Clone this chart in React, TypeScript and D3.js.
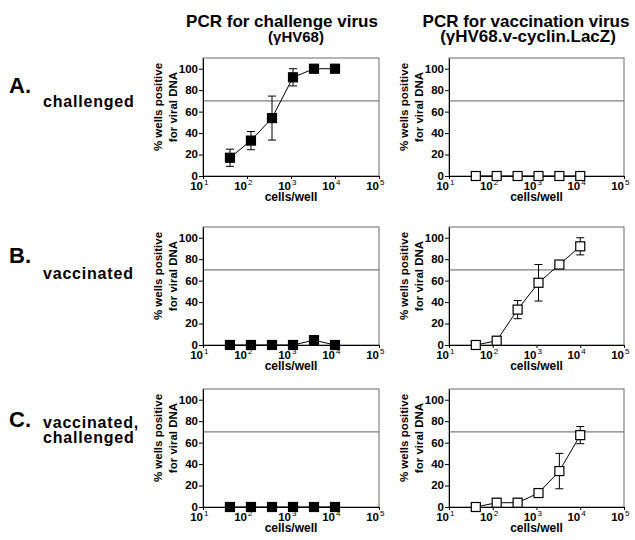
import React, { useRef, useEffect } from 'react';
import * as d3 from 'd3';

const WIDTH = 635;
const HEIGHT = 540;
const FONT = '"Liberation Sans", Arial, Helvetica, sans-serif';

// cells plated per well (3-fold dilutions down from 10^4)
const CELLS_PER_WELL = [41, 123, 370, 1111, 3333, 10000];
const X_EXPONENTS = [1, 2, 3, 4, 5];
const Y_TICKS = [0, 20, 40, 60, 80, 100];
const THRESHOLD = 70;

const COLUMN_TITLES = [
  ['PCR for challenge virus', '(γHV68)'],
  ['PCR for vaccination virus', '(γHV68.v-cyclin.LacZ)'],
];
const ROW_LETTERS = ['A.', 'B.', 'C.'];
const ROW_LABELS = [['challenged'], ['vaccinated'], ['vaccinated,', 'challenged']];

// % wells positive for challenge virus DNA (mean, error)
const CHALLENGE_A = [17, 33, 54, 92, 100, 100];
const CHALLENGE_A_ERR = [8, 8.5, 20.5, 8, 0, 0];
const CHALLENGE_B = [0, 0, 0, 0, 4.5, 0];
const CHALLENGE_B_ERR = [0, 0, 0, 0, 4, 0];
const CHALLENGE_C = [0, 0, 0, 0, 0, 0];
const CHALLENGE_C_ERR = [0, 0, 0, 0, 0, 0];

// % wells positive for vaccination virus DNA (mean, error)
const VACCINE_A = [0, 0, 0, 0, 0, 0];
const VACCINE_A_ERR = [0, 0, 0, 0, 0, 0];
const VACCINE_B = [0, 4, 33, 58, 75, 92];
const VACCINE_B_ERR = [0, 4, 8.5, 17, 0, 8];
const VACCINE_C = [0, 4, 4, 13, 33.5, 67];
const VACCINE_C_ERR = [0, 4, 4, 3.5, 16.5, 8];

const SERIES = [
  [[CHALLENGE_A, CHALLENGE_A_ERR], [VACCINE_A, VACCINE_A_ERR]],
  [[CHALLENGE_B, CHALLENGE_B_ERR], [VACCINE_B, VACCINE_B_ERR]],
  [[CHALLENGE_C, CHALLENGE_C_ERR], [VACCINE_C, VACCINE_C_ERR]],
];

// panel layout
const COL_X = [203, 449];
const COL_W = [176, 175];
const ROW_Y = [58, 227, 389];
const PLOT_H = 118;

export default function App() {
  const svgRef = useRef<SVGSVGElement>(null);

  useEffect(() => {
    const svg = d3.select(svgRef.current);
    svg.selectAll('*').remove();

    svg.append('rect').attr('width', WIDTH).attr('height', HEIGHT).attr('fill', '#fff');

    // column titles
    const titleX = [[282, 296], [526, 528]];
    const titleSize = [['17px', '15px'], ['17px', '17px']];
    COLUMN_TITLES.forEach((lines, c) => {
      lines.forEach((t, i) => {
        svg.append('text')
          .attr('x', titleX[c][i])
          .attr('y', i === 0 ? 26.5 : 41.5)
          .attr('text-anchor', 'middle')
          .style('font-family', FONT)
          .style('font-weight', 'bold')
          .style('font-size', titleSize[c][i])
          .text(t);
      });
    });

    // row letters and labels
    const letterY = [93, 263, 427];
    const labelY = [[107], [279], [428, 443]];
    ROW_LETTERS.forEach((l, r) => {
      svg.append('text')
        .attr('x', 9).attr('y', letterY[r])
        .style('font-family', FONT).style('font-weight', 'bold').style('font-size', '22px')
        .text(l);
      ROW_LABELS[r].forEach((t, i) => {
        svg.append('text')
          .attr('x', 43).attr('y', labelY[r][i])
          .style('font-family', FONT).style('font-weight', 'bold').style('font-size', '16px')
          .style('letter-spacing', '0.8px')
          .text(t);
      });
    });

    ROW_Y.forEach((top, r) => {
      COL_X.forEach((left, c) => {
        const w = COL_W[c];
        const [mean, err] = SERIES[r][c];
        const g = svg.append('g').attr('transform', `translate(${left},${top})`);

        const x = d3.scaleLog().domain([10, 1e5]).range([0, w]);
        const y = d3.scaleLinear().domain([0, 110]).range([PLOT_H, 0]);

        // frame
        g.append('rect')
          .attr('width', w).attr('height', PLOT_H)
          .attr('fill', 'none').attr('stroke', '#6a6a6a').attr('stroke-width', 1);

        // threshold line
        g.append('line')
          .attr('x1', 0).attr('x2', w)
          .attr('y1', y(THRESHOLD)).attr('y2', y(THRESHOLD))
          .attr('stroke', '#7c7c7c').attr('stroke-width', 1.4);

        // y axis
        const yAxis = g.append('g')
          .call(d3.axisLeft(y).tickValues(Y_TICKS).tickSize(4).tickPadding(1).tickSizeOuter(0));
        yAxis.select('.domain').attr('stroke', '#000');
        yAxis.selectAll('line').attr('stroke', '#000');
        yAxis.selectAll('text')
          .attr('dy', '0.3em')
          .style('font-family', FONT).style('font-weight', 'bold').style('font-size', '11.5px')
          .attr('fill', '#000');

        // x axis
        const xAxis = g.append('g')
          .attr('transform', `translate(0,${PLOT_H})`)
          .call(d3.axisBottom(x).tickValues(X_EXPONENTS.map(e => Math.pow(10, e))).tickSize(3).tickSizeOuter(0).tickFormat(() => ''));
        xAxis.select('.domain').attr('stroke', '#000');
        xAxis.selectAll('line').attr('stroke', '#000');

        X_EXPONENTS.forEach(e => {
          const tx = x(Math.pow(10, e));
          const label = g.append('text')
            .attr('x', tx - 12.8).attr('y', PLOT_H + 14)
            .style('font-family', FONT).style('font-weight', 'bold').style('font-size', '11.5px')
            .text('10');
          label.append('tspan')
            .attr('dx', 1).attr('dy', -5)
            .style('font-weight', 'normal').style('font-size', '8px')
            .text(String(e));
        });

        // axis titles
        g.append('text')
          .attr('x', w / 2).attr('y', PLOT_H + 25)
          .attr('text-anchor', 'middle')
          .style('font-family', FONT).style('font-weight', 'bold').style('font-size', '12px')
          .text('cells/well');

        ['% wells positive', 'for viral DNA'].forEach((t, i) => {
          g.append('text')
            .attr('transform', `translate(${i === 0 ? -41 : -26.5},49) rotate(-90)`)
            .attr('text-anchor', 'middle')
            .style('font-family', FONT).style('font-weight', 'bold').style('font-size', '11.5px')
            .text(t);
        });

        const pts = CELLS_PER_WELL.map((cells, i) => ({ cells, v: mean[i], e: err[i] }));

        // connecting line
        const line = d3.line<{ cells: number; v: number }>()
          .x(d => x(d.cells))
          .y(d => y(d.v));
        g.append('path')
          .datum(pts)
          .attr('d', line)
          .attr('fill', 'none').attr('stroke', '#000').attr('stroke-width', 1);

        // error bars
        const withErr = pts.filter(d => d.e > 0);
        const eb = g.selectAll('.err').data(withErr).enter().append('g');
        eb.append('line')
          .attr('x1', d => x(d.cells)).attr('x2', d => x(d.cells))
          .attr('y1', d => y(d.v + d.e)).attr('y2', d => y(Math.max(0, d.v - d.e)))
          .attr('stroke', '#000').attr('stroke-width', 1);
        eb.append('line')
          .attr('x1', d => x(d.cells) - 4).attr('x2', d => x(d.cells) + 4)
          .attr('y1', d => y(d.v + d.e)).attr('y2', d => y(d.v + d.e))
          .attr('stroke', '#000').attr('stroke-width', 1);
        eb.filter(d => d.v - d.e > 0).append('line')
          .attr('x1', d => x(d.cells) - 4).attr('x2', d => x(d.cells) + 4)
          .attr('y1', d => y(d.v - d.e)).attr('y2', d => y(d.v - d.e))
          .attr('stroke', '#000').attr('stroke-width', 1);

        // markers
        const size = 9;
        g.selectAll('.marker').data(pts).enter().append('rect')
          .attr('x', d => x(d.cells) - size / 2)
          .attr('y', d => y(d.v) - size / 2)
          .attr('width', size).attr('height', size)
          .attr('fill', c === 0 ? '#000' : '#fff')
          .attr('stroke', '#000').attr('stroke-width', 1.2);
      });
    });
  }, []);

  return (
    <div style={{ position: 'absolute', left: 0, top: 0 }}>
      <svg ref={svgRef} width={WIDTH} height={HEIGHT} style={{ display: 'block' }} />
    </div>
  );
}
